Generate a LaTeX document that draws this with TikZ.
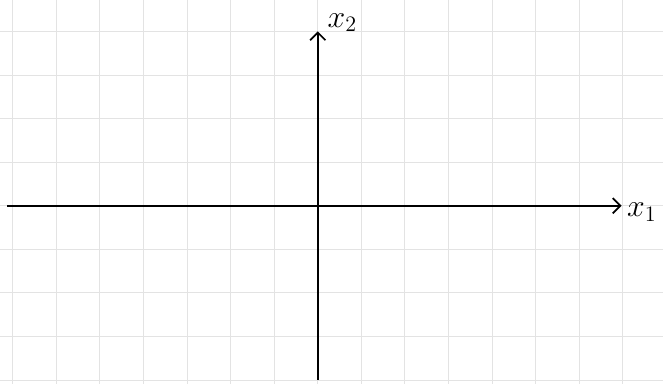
\documentclass[tikz,border=0pt]{standalone}
\usepackage{amsmath,amssymb}
\usepackage{tikz}
\usetikzlibrary{arrows.meta,positioning}

\begin{document}
\begin{tikzpicture}[gridline/.style={gray!22,line width=0.6pt},
    axisline/.style={line width=1.3pt,-{Straight Barb[length=5pt,width=10pt,line width=1.1pt]}}]
        \useasboundingbox (-7.29,-4.08) rectangle (7.92,4.72);
        \draw[gridline] (-7.29,-4.08) grid (7.92,4.72);
        \coordinate (west) at (-7.12,0);
        \coordinate (east) at (6.97,0);
        \coordinate (south) at (0,-4.0);
        \coordinate (north) at (0,4.0);
        \draw[axisline] (west) -- (east);
        \draw[axisline] (south) -- (north);
        \node[right=0.12cm of east,yshift=-0.14cm,inner sep=0pt] (xone) {\huge $x_1$};
        \node[right=0.22cm of north,yshift=0.2cm,inner sep=0pt] (xtwo) {\huge $x_2$};
      \end{tikzpicture}
\end{document}
